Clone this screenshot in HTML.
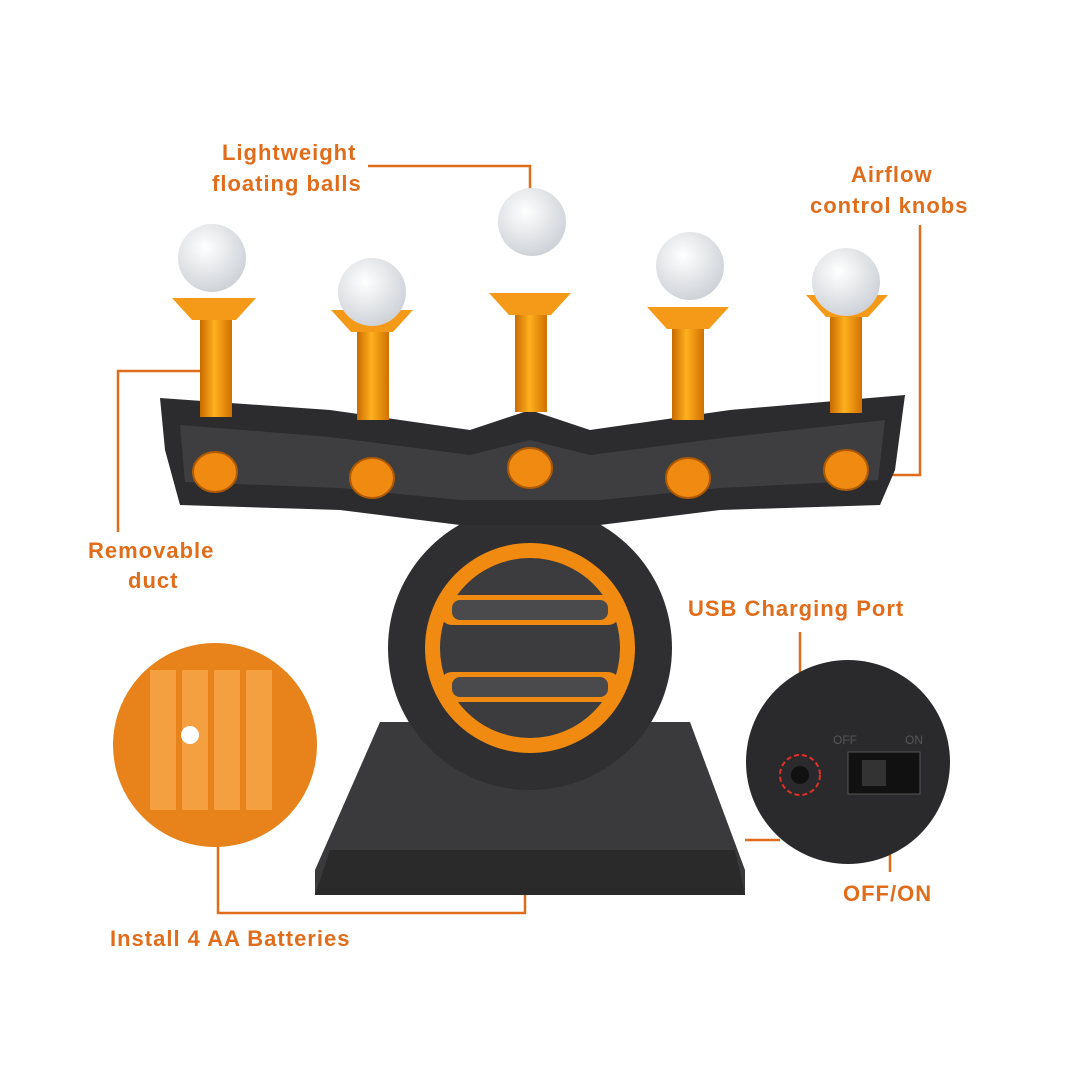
<!DOCTYPE html>
<html><head><style>
body{margin:0;background:#fff;width:1080px;height:1080px;overflow:hidden}
svg{display:block}
text{font-family:"Liberation Sans",sans-serif;font-weight:bold;fill:#e06d1c;font-size:22px;letter-spacing:1px}
</style></head><body>
<svg width="1080" height="1080" viewBox="0 0 1080 1080">
<defs>
<radialGradient id="ball" cx="40%" cy="35%" r="65%"><stop offset="0" stop-color="#fff"/><stop offset="1" stop-color="#cfd3d8"/></radialGradient>
<linearGradient id="tube" x1="0" x2="1"><stop offset="0" stop-color="#c96a00"/><stop offset=".45" stop-color="#ffb01e"/><stop offset="1" stop-color="#d07000"/></linearGradient>
</defs>
<g stroke="#e06d1c" stroke-width="2.5" fill="none">
<polyline points="368,166 530,166 530,195"/>
<polyline points="920,225 920,475 862,475"/>
<polyline points="118,532 118,371 200,371"/>
<polyline points="800,632 800,760"/>
<polyline points="890,872 890,775"/>
<polyline points="218,835 218,913 525,913 525,895"/>
<line x1="745" y1="840" x2="780" y2="840"/>
</g>
<polygon points="380,722 690,722 745,870 745,895 315,895 315,870" fill="#3a3a3c"/>
<polygon points="330,850 735,850 745,895 315,895" fill="#2a2a2b"/>
<circle cx="530" cy="648" r="142" fill="#2f2f31"/>
<circle cx="530" cy="648" r="105" fill="#f08a10"/>
<circle cx="530" cy="648" r="90" fill="#3c3c3e"/>
<rect x="440" y="595" width="180" height="30" rx="12" fill="#f08a10"/>
<rect x="440" y="672" width="180" height="30" rx="12" fill="#f08a10"/>
<rect x="452" y="600" width="156" height="20" rx="8" fill="#4a4a4c"/>
<rect x="452" y="677" width="156" height="20" rx="8" fill="#4a4a4c"/>
<polygon points="160,398 330,410 470,430 530,410 590,430 730,410 905,395 895,470 880,505 720,510 600,525 530,525 460,525 340,510 180,505 165,450" fill="#2c2c2e"/>
<polygon points="180,425 330,437 470,455 530,440 590,455 730,437 885,420 878,480 720,488 600,500 460,500 340,488 185,482" fill="#3e3e40"/>
<g fill="#f08a10" stroke="#b05a00" stroke-width="2">
<ellipse cx="215" cy="472" rx="22" ry="20"/><ellipse cx="372" cy="478" rx="22" ry="20"/><ellipse cx="530" cy="468" rx="22" ry="20"/><ellipse cx="688" cy="478" rx="22" ry="20"/><ellipse cx="846" cy="470" rx="22" ry="20"/>
</g>
<g>
<rect x="200" y="305" width="32" height="112" fill="url(#tube)"/><path d="M172,298 h84 l-20,22 h-44z" fill="#f59a18"/>
<rect x="357" y="320" width="32" height="100" fill="url(#tube)"/><path d="M331,310 h82 l-20,22 h-42z" fill="#f59a18"/>
<rect x="515" y="302" width="32" height="110" fill="url(#tube)"/><path d="M489,293 h82 l-20,22 h-42z" fill="#f59a18"/>
<rect x="672" y="318" width="32" height="102" fill="url(#tube)"/><path d="M647,307 h82 l-20,22 h-42z" fill="#f59a18"/>
<rect x="830" y="305" width="32" height="108" fill="url(#tube)"/><path d="M806,295 h82 l-20,22 h-42z" fill="#f59a18"/>
</g>
<g fill="url(#ball)">
<circle cx="212" cy="258" r="34"/><circle cx="372" cy="292" r="34"/><circle cx="532" cy="222" r="34"/><circle cx="690" cy="266" r="34"/><circle cx="846" cy="282" r="34"/>
</g>
<circle cx="215" cy="745" r="102" fill="#e8821a"/>
<g fill="#f5a040"><rect x="150" y="670" width="26" height="140"/><rect x="182" y="670" width="26" height="140"/><rect x="214" y="670" width="26" height="140"/><rect x="246" y="670" width="26" height="140"/></g>
<circle cx="190" cy="735" r="9" fill="#fff"/>
<circle cx="848" cy="762" r="102" fill="#2a2a2c"/>
<circle cx="800" cy="775" r="20" fill="none" stroke="#e0302a" stroke-width="2" stroke-dasharray="5,3"/>
<circle cx="800" cy="775" r="9" fill="#111"/>
<rect x="848" y="752" width="72" height="42" fill="#111" stroke="#555"/>
<rect x="862" y="760" width="24" height="26" fill="#333"/>
<text x="833" y="744" style="font-size:12px;font-weight:normal;fill:#555;letter-spacing:0">OFF</text>
<text x="905" y="744" style="font-size:12px;font-weight:normal;fill:#555;letter-spacing:0">ON</text>
<text x="222" y="160">Lightweight</text>
<text x="212" y="191">floating balls</text>
<text x="851" y="182">Airflow</text>
<text x="810" y="213">control knobs</text>
<text x="88" y="558">Removable</text>
<text x="128" y="588">duct</text>
<text x="688" y="616">USB Charging Port</text>
<text x="843" y="901">OFF/ON</text>
<text x="110" y="946">Install 4 AA Batteries</text>
</svg>
</body></html>
